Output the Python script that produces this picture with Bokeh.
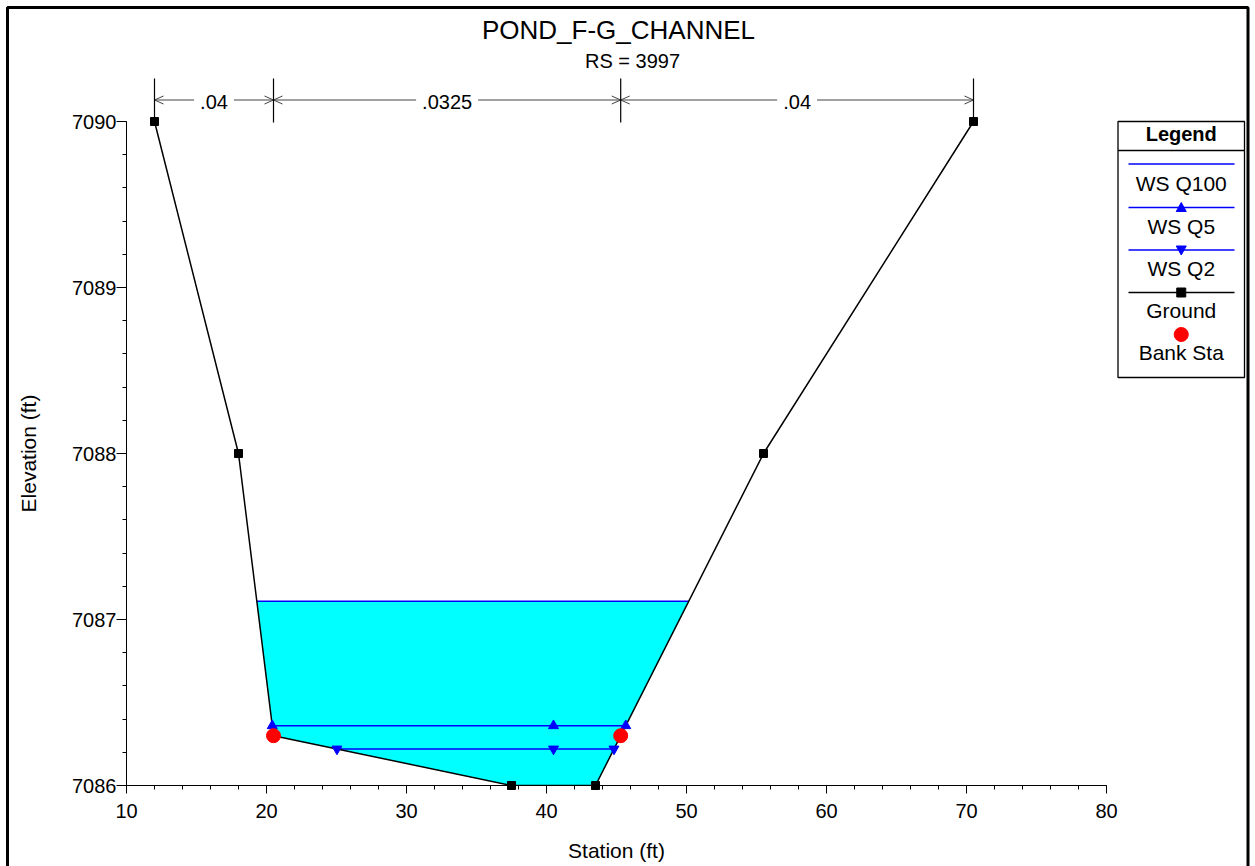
import numpy as np
from bokeh.plotting import figure
from bokeh.models import SingleIntervalTicker, Range1d
from bokeh.core.properties import value
from bokeh.embed import file_html
from bokeh.resources import INLINE

# ---------------- data ----------------
chart_title = "POND_F-G_CHANNEL"
chart_subtitle = "RS = 3997"
x_axis_label = "Station (ft)"
y_axis_label = "Elevation (ft)"

ground_sta = [12.0, 18.0, 20.5, 37.5, 43.5, 55.5, 70.5]
ground_elev = [7090.0, 7088.0, 7086.3, 7086.0, 7086.0, 7088.0, 7090.0]
bank_sta = [20.5, 45.3]

manning_n = [".04", ".0325", ".04"]

ws_labels = ["WS Q100", "WS Q5", "WS Q2"]
ws_elev = [7087.11, 7086.36, 7086.22]
ws_mid_marker_sta = [None, 40.5, 40.5]
ws_markers = [None, "triangle", "inverted_triangle"]

legend_title = "Legend"
legend_labels = ["WS Q100", "WS Q5", "WS Q2", "Ground", "Bank Sta"]

x_range = (10, 80)
y_range = (7086, 7090)
x_tick_interval = 10
y_tick_interval = 1

# ---------------- derived geometry ----------------
gs = np.array(ground_sta)
ge = np.array(ground_elev)
i_min = int(np.argmin(ge))


def ws_extent(e):
    xl = xr = None
    for i in range(i_min):
        if ge[i] >= e > ge[i + 1]:
            xl = gs[i] + (ge[i] - e) / (ge[i] - ge[i + 1]) * (gs[i + 1] - gs[i])
            break
    for i in range(len(gs) - 1, i_min, -1):
        if ge[i] >= e > ge[i - 1]:
            xr = gs[i] - (ge[i] - e) / (ge[i] - ge[i - 1]) * (gs[i] - gs[i - 1])
            break
    return xl, xr


bank_elev = np.interp(bank_sta, gs, ge)
n_breaks = [ground_sta[0]] + bank_sta + [ground_sta[-1]]

# ---------------- figure ----------------
W, H = 1250, 866
ML, MT = 126, 121
FW, FH = 980, 664
MR, MB = W - ML - FW, H - MT - FH
FONT = "Liberation Sans"


def dx(px):
    return x_range[0] + (px - ML) * (x_range[1] - x_range[0]) / FW


def dy(py):
    return y_range[0] + (MT + FH - py) * (y_range[1] - y_range[0]) / FH


def sx(x):
    return ML + (x - x_range[0]) * FW / (x_range[1] - x_range[0])


p = figure(width=W, height=H, x_range=Range1d(*x_range), y_range=Range1d(*y_range),
           output_backend="svg", toolbar_location=None,
           min_border_left=ML, min_border_right=MR, min_border_top=MT, min_border_bottom=MB,
           y_axis_label=y_axis_label)
p.outline_line_color = None
p.xgrid.visible = False
p.ygrid.visible = False
p.background_fill_color = "white"
p.border_fill_color = "white"

p.xaxis.ticker = SingleIntervalTicker(interval=x_tick_interval, num_minor_ticks=5)
p.yaxis.ticker = SingleIntervalTicker(interval=y_tick_interval, num_minor_ticks=5)
for ax in (p.xaxis[0], p.yaxis[0]):
    ax.axis_line_color = "black"
    ax.axis_line_width = 1
    ax.major_tick_line_color = "black"
    ax.minor_tick_line_color = "black"
    ax.major_tick_in = 0
    ax.minor_tick_in = 0
    ax.minor_tick_out = 4
    ax.major_label_text_font = FONT
    ax.major_label_text_font_size = "20px"
    ax.major_label_text_color = "black"
    ax.axis_label_text_font = FONT
    ax.axis_label_text_font_size = "21px"
    ax.axis_label_text_font_style = "normal"
    ax.axis_label_text_color = "black"
p.xaxis.major_tick_out = 8
p.yaxis.major_tick_out = 10
p.xaxis.major_label_standoff = 10
p.yaxis.major_label_standoff = 0
p.yaxis.axis_label_standoff = 29


def text(xs, pys, texts, size=20, style="normal"):
    # pys: target baselines in screen pixels (compensating the svg baseline shift)
    p.text(x=xs, y=[dy(v - 0.4 * size) for v in pys], text=texts, text_font=value(FONT),
           text_font_size=value(f"{size}px"), text_font_style=style, text_align="center",
           text_baseline="alphabetic", text_color="black", level="annotation")


# x axis title
text([dx(616)], [858.5], [x_axis_label], size=21)

# ---------------- water fill (highest WS) ----------------
e100 = ws_elev[0]
xl, xr = ws_extent(e100)
inside = (gs > xl) & (gs < xr)
fill_x = [xl] + list(gs[inside]) + [xr]
fill_y = [e100] + list(ge[inside]) + [e100]
p.patch(fill_x, fill_y, fill_color="#00ffff", line_color=None)

# ---------------- water surfaces ----------------
for e, mid, mk in zip(ws_elev, ws_mid_marker_sta, ws_markers):
    a, b = ws_extent(e)
    p.line([a, b], [e, e], line_color="#0000ff", line_width=1.6)
    if mk is not None:
        p.scatter([a, mid, b], [e] * 3, marker=mk, size=10, fill_color="#0000ff",
                  line_color="#0000ff", level="annotation")

# ---------------- ground ----------------
p.line(ground_sta, ground_elev, line_color="black", line_width=1.5)
p.scatter(ground_sta, ground_elev, marker="square", size=8, fill_color="black",
          line_color="black", level="annotation")
p.scatter(bank_sta, bank_elev, marker="circle", size=14, fill_color="#ff0000",
          line_color="#ff0000", level="annotation")

# ---------------- Manning's n annotations ----------------
CHAR_W = {".": 0.278, "0": 0.556, "1": 0.556, "2": 0.556, "3": 0.556, "4": 0.556,
          "5": 0.556, "6": 0.556, "7": 0.556, "8": 0.556, "9": 0.556}
ARROW_Y = 99.5
HEAD_L, HEAD_H = 9, 4
seg_x0, seg_y0, seg_x1, seg_y1 = [], [], [], []


def add_seg(px0, py0, px1, py1):
    seg_x0.append(dx(px0)); seg_y0.append(dy(py0))
    seg_x1.append(dx(px1)); seg_y1.append(dy(py1))


for i, nv in enumerate(manning_n):
    a_px, b_px = sx(n_breaks[i]), sx(n_breaks[i + 1])
    c_px = (a_px + b_px) / 2
    half = sum(CHAR_W.get(ch, 0.556) for ch in nv) * 20 / 2 + 6
    add_seg(a_px, ARROW_Y, c_px - half, ARROW_Y)
    add_seg(c_px + half, ARROW_Y, b_px, ARROW_Y)
    add_seg(a_px, ARROW_Y, a_px + HEAD_L, ARROW_Y - HEAD_H)
    add_seg(a_px, ARROW_Y, a_px + HEAD_L, ARROW_Y + HEAD_H)
    add_seg(b_px, ARROW_Y, b_px - HEAD_L, ARROW_Y - HEAD_H)
    add_seg(b_px, ARROW_Y, b_px - HEAD_L, ARROW_Y + HEAD_H)
p.segment(x0=seg_x0, y0=seg_y0, x1=seg_x1, y1=seg_y1, line_color="#444444",
          line_width=1, level="annotation")
p.segment(x0=n_breaks, y0=[dy(78)] * len(n_breaks), x1=n_breaks, y1=[dy(122)] * len(n_breaks),
          line_color="black", line_width=1.2, level="annotation")
text([(n_breaks[i] + n_breaks[i + 1]) / 2 for i in range(len(manning_n))],
     [109.5] * len(manning_n), manning_n)

# ---------------- titles ----------------
text([dx(618)], [39.5], [chart_title], size=26)
text([dx(632)], [68.5], [chart_subtitle], size=20)

# ---------------- legend ----------------
LX0, LX1, LY0, LY1 = 1117.5, 1244, 121, 377
LC = (LX0 + LX1) / 2
p.quad(left=[dx(LX0)], right=[dx(LX1)], top=[dy(LY0)], bottom=[dy(LY1)],
       fill_color=None, line_color="black", line_width=1.3, level="annotation")
p.segment(x0=[dx(LX0)], y0=[dy(150)], x1=[dx(LX1)], y1=[dy(150)],
          line_color="black", line_width=1.3, level="annotation")
text([dx(LC)], [141.5], [legend_title], size=20, style="bold")

sample_y = [163.5, 207, 249.5, 292, 334]
label_y = [191.5, 234, 276.5, 318, 360]
sample_color = ["#0000ff", "#0000ff", "#0000ff", "black", None]
sample_shape = [None, "up", "down", "square", "circle"]
marker_color = [None, "#0000ff", "#0000ff", "black", "#ff0000"]


def swatch_shape(kind, cx, cy):
    if kind == "up":
        pts = [(cx - 5, cy + 4), (cx + 5, cy + 4), (cx, cy - 5)]
    elif kind == "down":
        pts = [(cx - 5, cy - 4), (cx + 5, cy - 4), (cx, cy + 5)]
    elif kind == "square":
        pts = [(cx - 4.5, cy - 4.5), (cx + 4.5, cy - 4.5), (cx + 4.5, cy + 4.5), (cx - 4.5, cy + 4.5)]
    else:
        t = np.linspace(0, 2 * np.pi, 32, endpoint=False)
        pts = list(zip(cx + 7 * np.cos(t), cy + 7 * np.sin(t)))
    return [dx(a) for a, _ in pts], [dy(b) for _, b in pts]


for k, lab in enumerate(legend_labels):
    if sample_color[k] is not None:
        p.segment(x0=[dx(1128)], y0=[dy(sample_y[k])], x1=[dx(1234)], y1=[dy(sample_y[k])],
                  line_color=sample_color[k], line_width=1.4, level="annotation")
    if sample_shape[k] is not None:
        mx, my = swatch_shape(sample_shape[k], LC, sample_y[k])
        p.patch(mx, my, fill_color=marker_color[k], line_color=marker_color[k],
                line_width=1, level="annotation")
text([dx(LC)] * len(legend_labels), label_y, legend_labels, size=21)

# ---------------- outer border ----------------
p.quad(left=[dx(7)], right=[dx(1247.5)], top=[dy(7)], bottom=[dy(930)],
       fill_color=None, line_color="black", line_width=3, level="annotation")

open("out.html", "w").write(file_html(p, INLINE))
